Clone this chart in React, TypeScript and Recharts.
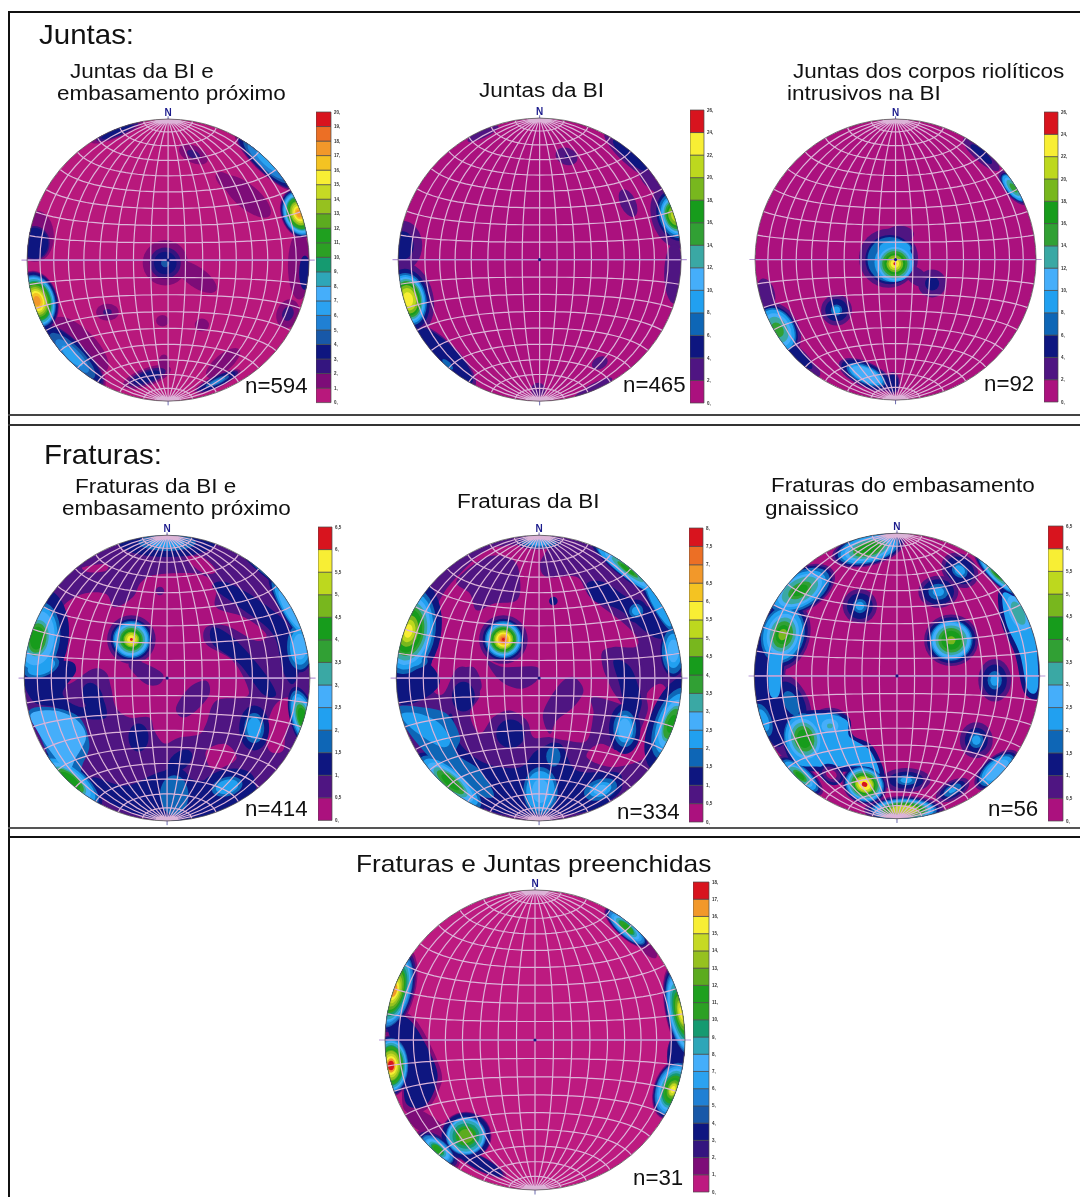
import { Bar, BarChart, Line, LineChart, ReferenceDot, Scatter, ScatterChart, XAxis, YAxis } from 'recharts'

// contour colours, lowest class first, one list per colour bar length
const COLORS_13 = ['#ab117e', '#4f1582', '#0e1680', '#0e66b6', '#21a0f0', '#45aefa', '#3aa8a4', '#31a034', '#179c1c', '#78b71e', '#bdd81e', '#f8ee34', '#d8141e']
const COLORS_16 = ['#ab117e', '#4f1582', '#0e1680', '#0e66b6', '#21a0f0', '#45aefa', '#3aa8a4', '#31a034', '#179c1c', '#78b71e', '#bdd81e', '#f8ee34', '#f4c322', '#f2982a', '#ec6f25', '#d8141e']
const COLORS_18 = ['#bd1a80', '#7d0c78', '#34157f', '#0e1680', '#1858a8', '#2080d4', '#2ba2f0', '#45aefa', '#2ea6b8', '#159a70', '#2ca024', '#1fa01f', '#5cab1f', '#96c11f', '#c6d924', '#f8ee34', '#f2982a', '#d8141e']
const COLORS_20 = ['#b8187c', '#7d0c78', '#34157f', '#0e1680', '#1858a8', '#2080d4', '#2ba2f0', '#45aefa', '#2ea6b8', '#159a70', '#2ca024', '#1fa01f', '#5cab1f', '#96c11f', '#c6d924', '#f8ee34', '#f4c322', '#f2982a', '#ec6f25', '#d8141e']

const TICKS_20 = [0, 1, 2, 3, 4, 5, 6, 7, 8, 9, 10, 11, 12, 13, 14, 15, 16, 17, 18, 19, 20]
const TICKS_26 = [0, 2, 4, 6, 8, 10, 12, 14, 16, 18, 20, 22, 24, 26]
const TICKS_65 = [0, 0.5, 1, 1.5, 2, 2.5, 3, 3.5, 4, 4.5, 5, 5.5, 6, 6.5]
const TICKS_8 = [0, 0.5, 1, 1.5, 2, 2.5, 3, 3.5, 4, 4.5, 5, 5.5, 6, 6.5, 7, 7.5, 8]
const TICKS_18 = [0, 1, 2, 3, 4, 5, 6, 7, 8, 9, 10, 11, 12, 13, 14, 15, 16, 17, 18]

// [x, y, rotation, ry/rx, radii for class 1, 2, 3...]; disc radius is 100
type Peak = [number, number, number, number, number[]]
// [class, then crop-pixel x, y pairs of a closed outline]
type Patch = number[]
// [x, y, rx, ry, rotation, class], painted last
type Late = [number, number, number, number, number, number]

const peaks1: Peak[] = [
  [-93, -29, -15, 1.45, [15, 14.5, 14, 13, 12.5, 12, 11.5, 11, 10, 9.5, 9, 8, 7, 6, 5, 4, 2.5]],
  [-68, -68, 45, 0.33, [32, 30, 28, 22, 16, 10]],
  [-62, -60, 45, 0.4, [26]],
  [-95, 12, 0, 1.1, [12, 11, 10]],
  [-93, 17, 0, 1.5, [12]],
  [-2, -2, 0, 1, [16, 11, 8, 3]],
  [20, -12, 35, 0.42, [17]],
  [93, 33, -20, 1.4, [13, 12.5, 12, 11.5, 11, 10.5, 10, 9, 8.5, 8, 7, 6.5, 6, 5, 4, 3, 2]],
  [70, 70, 43, 0.28, [30, 28, 26, 22, 18, 10]],
  [56, 45, 40, 0.4, [21]],
  [42, 55, 40, 0.5, [10]],
  [18, 75, 25, 0.55, [11, 5]],
  [-36, 91, -22, 0.2, [20, 16, 12]],
  [85, -38, 20, 1.3, [8, 4]],
  [93, -4, 0, 3, [8]],
  [97, -9, 0, 3, [4, 4, 4]],
  [-43, -37, 0, 0.75, [8, 3]],
  [-4, -43, 0, 0.9, [4.5]],
  [24, -46, 0, 0.9, [5]],
  [-15, -83, -20, 0.35, [18, 14, 10]],
  [-3, -73, 0, 1.5, [4]],
  [39, -73, -40, 0.4, [15]],
  [35, -86, -25, 0.25, [18, 16, 14, 9, 6]],
]

const peaks2: Peak[] = [
  [-93, -28, -12, 1.45, [18, 15, 13, 12, 11, 10, 9, 8, 7, 5.5, 3.5]],
  [-97, 10, 0, 1.25, [14, 8]],
  [-67, -68, 45, 0.3, [30, 27]],
  [-65, -74, 45, 0.4, [0, 0, 5]],
  [-40, 89, -25, 0.25, [12]],
  [64, 74, 42, 0.28, [24, 16]],
  [78, 55, 45, 0.4, [10]],
  [19, 73, 20, 0.75, [8, 1]],
  [62.5, 40, -25, 1.9, [5.5]],
  [96, 31, -18, 1.4, [17, 13, 11.5, 10, 9, 8, 7, 6, 5, 3]],
  [95, -10, 0, 3, [7]],
  [42.5, -73, -30, 0.7, [6]],
  [38, -91, -28, 0.22, [15]],
  [-1, -92, 0, 1, [5]],
]

const peaks3: Peak[] = [
  [-5, 1, 0, 1, [21]],
  [3, 18, 0, 0.6, [10]],
  [-4, 0, 0, 1, [0, 17.5, 16]],
  [-1, -2, 0, 1, [0, 0, 0, 14]],
  [-0.5, -3, 0, 1, [0, 0, 0, 0, 12, 10.5, 9, 7.5, 6, 4.5, 3, 1]],
  [-0.5, 8, 0, 0.5, [0, 13, 12, 11]],
  [26, -17, 0, 1, [10, 5]],
  [15, -12, 35, 0.65, [9]],
  [-42, -36, 0, 1, [11, 8, 4, 2.5]],
  [-84, -50, -30, 1.4, [15, 13, 12, 11, 9, 7, 4]],
  [-92, -24, -15, 1.8, [6]],
  [-68, -69, 45, 0.3, [15, 12]],
  [-21, -82, 25, 0.42, [21, 19, 15, 13, 11]],
  [-2, -88, 0, 1.6, [5, 4]],
  [-59, -78, 45, 0.5, [7]],
  [61, 75, 42, 0.3, [17, 10]],
  [84, 51, 50, 0.42, [15, 13, 12, 11, 9, 7, 4]],
]

const peaks4: Peak[] = [
  [-25, 27, 0, 1, [17, 14.5, 13, 12, 11, 9.5, 8, 7, 5.5, 4.5, 3, 1]],
  [0, 95, 0, 0.3, [0, 34, 20, 12]],
  [-91, 28, 8, 1.6, [0, 22, 16, 14, 12, 8, 6.5, 5]],
  [-88, 8, -20, 0.55, [0, 15, 13, 10]],
  [-68, -72, 40, 0.4, [0, 28, 25, 22, 18, 14, 12, 9]],
  [70, 78, 40, 0.2, [0, 32, 28, 24, 18, 12, 8, 4]],
  [86, 48, 60, 0.22, [0, 28, 24, 20, 15]],
  [93, 22, 0, 1.8, [0, 10, 9, 7, 5]],
  [95, -28, -15, 2.5, [0, 9, 8, 7, 6, 5, 4, 3]],
  [61, -35, 0, 1.5, [0, 10.5, 7, 5]],
  [-20, -41.6, 0, 1.4, [0, 7]],
  [-52, -13.5, -20, 1.5, [0, 7]],
  [9, -58, -40, 0.6, [0, 10]],
  [-5, 61, 0, 1, [3]],
  [5, -82, 0, 1.4, [0, 14, 10]],
  [42, -76, -15, 0.6, [0, 20, 11, 8]],
]

const patches4: Patch[] = [
  [0, 425, 455, 470, 432, 600, 430, 650, 470, 650, 530, 735, 560, 800, 610, 770, 630, 680, 585, 620, 590, 620, 640, 700, 690, 745, 770, 735, 800, 650, 810, 620, 880, 600, 910, 540, 920, 495, 938, 465, 900, 450, 860, 390, 860, 350, 830, 335, 770, 320, 725, 280, 715, 205, 760, 195, 700, 190, 600, 190, 530, 250, 490, 320, 490, 345, 530, 400, 500],
  [0, 250, 410, 320, 400, 320, 420, 270, 425],
  [0, 560, 380, 610, 380, 650, 420, 620, 430, 585, 410],
  [0, 825, 825, 870, 800, 885, 840, 860, 900, 850, 960, 810, 960, 800, 900],
  [0, 620, 960, 680, 940, 710, 985, 640, 1015],
  [1, 400, 690, 440, 700, 490, 730, 480, 760, 440, 760, 390, 710],
  [1, 530, 830, 570, 770, 620, 750, 630, 790, 590, 840, 550, 860],
  [1, 260, 730, 310, 720, 330, 780, 330, 840, 290, 860, 270, 810],
  [2, 75, 720, 200, 690, 230, 720, 190, 790, 250, 830, 300, 790, 320, 860, 240, 860, 170, 830, 100, 810],
  [2, 280, 1040, 350, 1060, 400, 1060, 500, 1020, 600, 1050, 700, 1030, 770, 1070, 700, 1130, 600, 1160, 500, 1170, 380, 1140, 300, 1090],
  [2, 640, 470, 680, 455, 780, 510, 870, 590, 900, 700, 880, 760, 850, 720, 820, 610, 720, 530],
  [2, 640, 590, 700, 620, 790, 720, 830, 790, 790, 790, 720, 700, 640, 640],
  [3, 90, 840, 160, 830, 240, 860, 270, 940, 250, 1000, 230, 1040, 160, 990, 120, 910],
  [5, 95, 850, 170, 840, 235, 870, 260, 920, 230, 980, 205, 1020, 160, 970, 120, 910],
]

const peaks5: Peak[] = [
  [-25, 27, 0, 1, [17, 14.5, 13, 12, 11, 10, 9, 8, 7, 6, 5, 4, 3, 2, 1]],
  [-62, -73, 40, 0.35, [0, 30, 27, 24, 20, 15, 12, 8]],
  [1, -79, 0, 1.4, [0, 16, 12, 10, 6]],
  [43, -78, -20, 0.6, [0, 16, 12, 8, 5]],
  [10, -55, 0, 1.4, [0, 7, 5]],
  [60, -35.5, 0, 1.6, [0, 11, 8, 6, 4.5]],
  [93, -32, 20, 2.2, [0, 16, 12, 10, 8, 6, 5, 3]],
  [62, 76, 38, 0.2, [0, 32, 28, 26, 20, 14, 9, 6]],
  [84, 50, 60, 0.2, [0, 26, 20, 16]],
  [94, 19, 0, 2, [0, 9, 8, 6, 4]],
  [68, 47, 0, 1, [0, 8, 5, 3]],
  [-91.6, 33, 10, 1.6, [0, 23, 19, 17, 15, 13, 11, 9.5, 7, 5, 3]],
  [-90, 12, 0, 0.5, [0, 15, 12, 8]],
  [0, 95, 0, 0.3, [0, 16, 12, 8]],
  [10, 54, 0, 1, [0, 3]],
  [-20, -39, 0, 1, [0, 10]],
  [-53, -13, 0, 1.3, [0, 8]],
]

const patches5: Patch[] = [
  [0, 465, 195, 560, 195, 540, 250, 560, 290, 650, 290, 690, 350, 780, 420, 830, 470, 825, 500, 760, 500, 725, 520, 740, 590, 800, 640, 820, 680, 700, 650, 700, 700, 680, 780, 620, 780, 570, 770, 520, 770, 500, 720, 450, 690, 400, 710, 360, 760, 330, 700, 360, 640, 330, 570, 290, 565, 250, 640, 215, 620, 215, 520, 215, 420, 250, 340, 300, 280, 380, 210],
  [0, 860, 640, 900, 610, 920, 650, 880, 780, 860, 830, 760, 860, 680, 830, 720, 790, 800, 810, 860, 700],
  [1, 290, 300, 380, 230, 460, 240, 480, 300, 470, 360, 400, 370, 350, 390, 330, 340],
  [1, 555, 680, 600, 610, 640, 590, 670, 630, 640, 680, 590, 720, 570, 760, 550, 720],
  [1, 380, 540, 430, 560, 530, 560, 530, 600, 480, 625, 420, 600],
  [1, 290, 580, 340, 560, 365, 620, 330, 650, 300, 640],
  [1, 730, 510, 830, 520, 860, 640, 820, 700, 770, 650, 740, 590],
  [2, 680, 310, 730, 305, 800, 350, 900, 400, 930, 460, 880, 470, 780, 390, 700, 360],
  [2, 760, 540, 810, 560, 840, 640, 840, 690, 790, 790, 760, 800, 790, 700, 780, 620],
  [2, 110, 570, 190, 540, 240, 600, 200, 650, 120, 670],
  [2, 270, 700, 300, 790, 380, 850, 480, 860, 530, 810, 600, 790, 650, 870, 780, 880, 750, 960, 640, 1000, 420, 1000, 300, 920, 220, 840],
  [3, 115, 680, 180, 680, 260, 700, 300, 770, 290, 820, 360, 870, 400, 950, 300, 920, 190, 810, 130, 730],
  [4, 125, 700, 180, 700, 240, 730, 270, 780, 250, 800, 190, 770, 140, 730],
]

const peaks6: Peak[] = [
  [-20, 89, -14, 0.45, [26, 24, 22, 20, 17, 14, 11, 8]],
  [-68, 60, -30, 0.55, [27, 25, 23, 20, 17, 14, 9, 6]],
  [-80, 29, 15, 1.35, [19, 17, 15, 13.5, 11, 9, 7, 5, 3]],
  [-74, -19, -25, 1.8, [12, 9, 5]],
  [-26, 49, 0, 1, [12, 9, 5, 3]],
  [29, 59, 0, 0.8, [14, 11, 7, 4]],
  [44, 74, 40, 0.8, [14, 11, 6, 4]],
  [38, 25, 0, 0.95, [19, 17, 15, 14, 13, 11, 9, 7, 3]],
  [68.5, -3, 0, 1.3, [11.5, 8.5, 5, 3]],
  [70, 71, 45, 0.25, [22, 20, 18, 16, 14, 10, 6, 3]],
  [85, 44, -25, 2.2, [0, 0, 0, 0, 6, 4]],
  [55.6, -45, 0, 1.1, [11.5, 8, 5, 3]],
  [70, -66, -40, 0.5, [19, 17, 15, 13, 10]],
  [39, -80, -30, 0.5, [13, 10, 7, 3]],
  [6.5, -73, 0, 0.5, [17, 12, 7, 4]],
  [5, -94, 0, 0.35, [28, 25, 23, 21, 19, 17, 15, 13, 11, 9]],
  [-22.7, -76, 25, 0.85, [16, 15, 14, 13, 12, 11, 9.5, 8, 7, 6, 4.5, 2]],
  [-65, -44, -15, 1.3, [17, 15, 14, 13, 11, 9, 7, 5]],
  [-47, -35, 0, 0.85, [15, 13, 11, 9, 6, 2]],
  [-68, -70, 40, 0.4, [20, 18, 16, 14, 11, 9, 6, 4]],
  [-94, -31, -20, 2, [10, 8, 6, 4]],
]

const patches6: Patch[] = [
  [1, 100, 480, 200, 500, 195, 640, 270, 680, 220, 800, 190, 830, 120, 730, 100, 620],
  [2, 105, 500, 190, 520, 190, 640, 250, 660, 240, 720, 180, 800, 130, 740, 105, 620],
  [2, 840, 330, 910, 360, 955, 470, 965, 640, 915, 640, 885, 520, 845, 430],
  [2, 205, 710, 300, 690, 385, 710, 400, 765, 460, 800, 495, 890, 440, 875, 300, 875, 225, 860, 190, 780],
  [4, 150, 520, 185, 520, 180, 640, 150, 640],
  [4, 850, 340, 900, 370, 945, 470, 955, 620, 925, 630, 900, 520, 860, 430],
  [4, 215, 720, 300, 700, 380, 720, 390, 770, 450, 810, 480, 880, 440, 860, 300, 860, 230, 850, 200, 780],
]

const late6: Late[] = [
  [-46, -69, 9, 7, 30, 2],
  [-46, -69, 7, 5, 30, 1],
  [-46, -69, 4, 3, 30, 0],
]

const peaks7: Peak[] = [
  [-96, -17, 0, 1.6, [13, 12.5, 12, 11.5, 11, 10.5, 10, 9.5, 8.5, 8, 7, 6.5, 6, 5, 4, 3, 2]],
  [-94, 33, 15, 2.2, [14, 13, 12, 11.5, 11, 10, 9.5, 9, 8, 7, 6.5, 6, 5, 4, 3, 2]],
  [-46, -64, 0, 0.95, [17, 16.5, 16, 13.5, 13, 12.5, 12, 11, 9, 7, 6, 5]],
  [-65, -73, 40, 0.5, [18, 16, 14, 13, 12, 10, 9, 7, 5.5, 4.5, 3]],
  [-37, -82, 28, 0.25, [20, 18, 17]],
  [98, 17.7, -12, 3, [11, 10.5, 10, 9.5, 9, 8.5, 8, 7, 6, 5, 4.5, 4, 3, 2.5, 1.5]],
  [92, -33, 18, 1.6, [13, 12.5, 12, 11.5, 11, 10, 9, 8, 7, 6, 5, 4, 3, 2.5, 1.5]],
  [61, 75, 42, 0.35, [19, 18, 17, 16, 15, 13, 11, 9, 7, 6, 3]],
  [76, 60, 45, 0.5, [7]],
  [96, -11, 0, 2, [8, 8, 7.5]],
]

const patches7: Patch[] = [
  [1, 75, 520, 140, 520, 185, 570, 240, 690, 235, 750, 195, 810, 130, 810, 120, 690, 85, 600],
  [1, 135, 825, 175, 810, 250, 860, 230, 890, 170, 870],
  [3, 75, 530, 130, 530, 170, 570, 225, 680, 225, 740, 190, 800, 135, 790, 125, 690, 90, 600],
]

const noPatches: Patch[] = []
const noLate: Late[] = []

const netPanels = [
  { id: 'p1', cx: 167.7, cy: 260.5, r: 141, base: 0, colors: COLORS_20, peaks: peaks1, patches: noPatches, late: noLate, crop: [503, 782, 423] },
  { id: 'p2', cx: 539.5, cy: 260, r: 141.5, base: 0, colors: COLORS_13, peaks: peaks2, patches: noPatches, late: noLate, crop: [540, 600, 424] },
  { id: 'p3', cx: 895.5, cy: 260, r: 140.5, base: 0, colors: COLORS_13, peaks: peaks3, patches: noPatches, late: noLate, crop: [527, 600, 421] },
  { id: 'p4', cx: 167.5, cy: 677.7, r: 142.8, base: 1, colors: COLORS_13, peaks: peaks4, patches: patches4, late: noLate, crop: [503, 742, 428] },
  { id: 'p5', cx: 538.7, cy: 677.7, r: 142.8, base: 1, colors: COLORS_16, peaks: peaks5, patches: patches5, late: noLate, crop: [537, 593, 428] },
  { id: 'p6', cx: 897, cy: 676, r: 142.7, base: 0, colors: COLORS_13, peaks: peaks6, patches: patches6, late: late6, crop: [532, 588, 428] },
  { id: 'p7', cx: 534.7, cy: 1040, r: 150, base: 0, colors: COLORS_18, peaks: peaks7, patches: patches7, late: noLate, crop: [524, 600, 452] },
]

const colorBars = [
  { x: 316, y: 111.7, w: 15, h: 290.6, ticks: TICKS_20, colors: COLORS_20 },
  { x: 690, y: 110, w: 14, h: 293, ticks: TICKS_26, colors: COLORS_13 },
  { x: 1044, y: 111.7, w: 14, h: 290, ticks: TICKS_26, colors: COLORS_13 },
  { x: 318.3, y: 527.3, w: 14, h: 293.4, ticks: TICKS_65, colors: COLORS_13 },
  { x: 689.3, y: 527.7, w: 14, h: 294, ticks: TICKS_8, colors: COLORS_16 },
  { x: 1048, y: 525.7, w: 15, h: 295, ticks: TICKS_65, colors: COLORS_13 },
  { x: 693, y: 881.7, w: 16, h: 310, ticks: TICKS_18, colors: COLORS_18 },
]

// the source lettering is a little wider than Liberation Sans, hence the stretch
const headings = [
  { text: 'Juntas:', x: 39, base: 45, size: 28, stretch: 1.053 },
  { text: 'Juntas da BI e', x: 70, base: 77.6, size: 20, stretch: 1.125 },
  { text: 'embasamento próximo', x: 57, base: 100.1, size: 20, stretch: 1.125 },
  { text: 'Juntas da BI', x: 479, base: 97, size: 20, stretch: 1.125 },
  { text: 'Juntas dos corpos riolíticos', x: 793, base: 77.6, size: 20, stretch: 1.125 },
  { text: 'intrusivos na BI', x: 787, base: 100.1, size: 20, stretch: 1.125 },
  { text: 'Fraturas:', x: 44, base: 465, size: 28, stretch: 1.053 },
  { text: 'Fraturas da BI e', x: 75, base: 492.6, size: 20, stretch: 1.125 },
  { text: 'embasamento próximo', x: 62, base: 515.1, size: 20, stretch: 1.125 },
  { text: 'Fraturas da BI', x: 457, base: 508, size: 20, stretch: 1.125 },
  { text: 'Fraturas do embasamento', x: 771, base: 492, size: 20, stretch: 1.125 },
  { text: 'gnaissico', x: 765, base: 515, size: 20, stretch: 1.125 },
  { text: 'Fraturas e Juntas preenchidas', x: 356, base: 872, size: 24, stretch: 1.096 },
  { text: 'n=594', x: 245, base: 394, size: 22.3, stretch: 1 },
  { text: 'n=465', x: 623, base: 393, size: 22.3, stretch: 1 },
  { text: 'n=92', x: 984, base: 392, size: 22.3, stretch: 1 },
  { text: 'n=414', x: 245, base: 817, size: 22.3, stretch: 1 },
  { text: 'n=334', x: 617, base: 820, size: 22.3, stretch: 1 },
  { text: 'n=56', x: 988, base: 817, size: 22.3, stretch: 1 },
  { text: 'n=31', x: 633, base: 1186, size: 22.3, stretch: 1 },
]

const rules = [
  { x: 8, y: 11, w: 1072, h: 2, color: '#111' },
  { x: 8, y: 11, w: 2, h: 1186, color: '#111' },
  { x: 8, y: 414, w: 1072, h: 2, color: '#444' },
  { x: 8, y: 424, w: 1072, h: 2, color: '#333' },
  { x: 8, y: 827, w: 1072, h: 2, color: '#555' },
  { x: 8, y: 836, w: 1072, h: 2, color: '#111' },
]

type Mark = { x: number; y: number; level: number; rx?: number; ry?: number; rot?: number; pts?: number[] }

const DOMAIN: [number, number] = [-110, 110]

// equal-area (Schmidt) net, one line with gaps between the 10 degree curves
function netPoint(lon: number, lat: number) {
  const a = (lon * Math.PI) / 180
  const b = (lat * Math.PI) / 180
  const k = 100 / Math.sqrt(1 + Math.cos(b) * Math.cos(a))
  return { x: k * Math.cos(b) * Math.sin(a), y: k * Math.sin(b) }
}

const gridLines: { x: number | null; y: number | null }[] = []
for (let lon = -80; lon <= 80; lon += 10) {
  for (let lat = -90; lat <= 90; lat += 5) gridLines.push(netPoint(lon, lat))
  gridLines.push({ x: null, y: null })
}
for (let lat = -80; lat <= 80; lat += 10) {
  for (let lon = -90; lon <= 90; lon += 5) gridLines.push(netPoint(lon, lat))
  gridLines.push({ x: null, y: null })
}
const rimLine: { x: number; y: number }[] = []
for (let lon = -90; lon <= 90; lon += 5) rimLine.push(netPoint(90, lon))
for (let lat = 85; lat >= -90; lat -= 5) rimLine.push({ x: -netPoint(90, lat).x, y: netPoint(90, lat).y })

const axisEW = [{ x: -104, y: 0 }, { x: 104, y: 0 }]
const axisSouth = [{ x: 0, y: -100 }, { x: 0, y: -103 }]
const axisNorth = [{ x: 0, y: 100 }, { x: 0, y: 102 }]

function buildMarks(panel: (typeof netPanels)[number]) {
  const marks: Mark[] = []
  panel.peaks.forEach(([x, y, rot, aspect, radii]) => {
    radii.forEach((r, i) => {
      if (r > 0) marks.push({ x, y, rot, rx: r, ry: r * aspect, level: i + 1 })
    })
  })
  const [cropX, cropY, cropR] = panel.crop
  panel.patches.forEach((patch) => {
    const pts: number[] = []
    for (let i = 1; i < patch.length; i += 2) {
      pts.push(((patch[i] - cropX) / cropR) * 100, ((cropY - patch[i + 1]) / cropR) * 100)
    }
    marks.push({ x: pts[0], y: pts[1], level: patch[0], pts })
  })
  return marks
}

function smoothPath(p: number[][]) {
  const n = p.length
  let d = `M${p[0][0]},${p[0][1]}`
  for (let i = 0; i < n; i++) {
    const a = p[(i - 1 + n) % n]
    const b = p[i]
    const c = p[(i + 1) % n]
    const e = p[(i + 2) % n]
    d += `C${b[0] + (c[0] - a[0]) / 6},${b[1] + (c[1] - a[1]) / 6} ${c[0] - (e[0] - b[0]) / 6},${c[1] - (e[1] - b[1]) / 6} ${c[0]},${c[1]}`
  }
  return d + 'Z'
}

function contourShape(k: number, clipId: string, colors: string[]) {
  return (props: any) => {
    const { cx, cy, payload } = props
    const m = payload as Mark
    const fill = colors[m.level]
    if (m.pts) {
      const p: number[][] = []
      for (let i = 0; i < m.pts.length; i += 2) {
        p.push([cx + (m.pts[i] - m.x) * k, cy - (m.pts[i + 1] - m.y) * k])
      }
      return <path d={smoothPath(p)} fill={fill} clipPath={`url(#${clipId})`} />
    }
    return (
      <g clipPath={`url(#${clipId})`}>
        <ellipse
          cx={cx}
          cy={cy}
          rx={(m.rx ?? 0) * k}
          ry={(m.ry ?? 0) * k}
          fill={fill}
          transform={`rotate(${m.rot ?? 0} ${cx} ${cy})`}
        />
      </g>
    )
  }
}

function Stereonet({ panel }: { panel: (typeof netPanels)[number] }) {
  const k = panel.r / 100
  const size = 2.2 * panel.r
  const marks = buildMarks(panel)
  const shape = contourShape(k, panel.id, panel.colors)
  const levels = panel.colors.map((_, i) => i)
  const lateMarks: Mark[] = panel.late.map(([x, y, rx, ry, rot, level]) => ({ x, y, rx, ry, rot, level }))
  const boxStyle = { position: 'absolute' as const, left: panel.cx - size / 2, top: panel.cy - size / 2 }
  return (
    <>
      <div style={boxStyle}>
        <ScatterChart width={size} height={size} margin={{ top: 0, right: 0, bottom: 0, left: 0 }}>
          <defs>
            <clipPath id={panel.id}>
              <circle cx={size / 2} cy={size / 2} r={panel.r} />
            </clipPath>
          </defs>
          <XAxis hide type="number" dataKey="x" domain={DOMAIN} allowDataOverflow />
          <YAxis hide type="number" dataKey="y" domain={DOMAIN} allowDataOverflow />
          <Scatter
            data={[{ x: 0, y: 0, rx: 100, ry: 100, level: panel.base }]}
            shape={shape}
            isAnimationActive={false}
          />
          {levels.map((level) => (
            <Scatter
              key={level}
              data={marks.filter((m) => m.level === level)}
              shape={shape}
              isAnimationActive={false}
            />
          ))}
          {lateMarks.map((m, i) => (
            <Scatter key={`late${i}`} data={[m]} shape={shape} isAnimationActive={false} />
          ))}
        </ScatterChart>
      </div>
      <div style={boxStyle}>
        <LineChart width={size} height={size} data={gridLines} margin={{ top: 0, right: 0, bottom: 0, left: 0 }}>
          <XAxis hide type="number" dataKey="x" domain={DOMAIN} allowDataOverflow />
          <YAxis hide type="number" dataKey="y" domain={DOMAIN} allowDataOverflow />
          <Line dataKey="y" stroke="#dcb4d8" strokeWidth={1.2} dot={false} connectNulls={false} isAnimationActive={false} />
          <Line data={axisEW} dataKey="y" stroke="#b89ad8" strokeWidth={1.1} dot={false} isAnimationActive={false} />
          <Line data={axisSouth} dataKey="y" stroke="#6a6ab0" strokeWidth={1} dot={false} isAnimationActive={false} />
          <Line data={axisNorth} dataKey="y" stroke="#6a6ab0" strokeWidth={1} dot={false} isAnimationActive={false} />
          <Line data={rimLine} dataKey="y" stroke="#555" strokeWidth={0.8} dot={false} isAnimationActive={false} />
          <ReferenceDot x={0} y={0} r={1.6} fill="#141480" stroke="none" />
          <ReferenceDot
            x={0}
            y={104.5}
            r={0}
            stroke="none"
            label={{ value: 'N', position: 'center', fill: '#1a1a8c', fontSize: 10, fontWeight: 700, fontFamily: 'Liberation Sans' }}
          />
        </LineChart>
      </div>
    </>
  )
}

function ColorBar({ bar }: { bar: (typeof colorBars)[number] }) {
  const { ticks, colors } = bar
  const row: Record<string, number | string> = { name: 'scale' }
  colors.forEach((_, i) => {
    row[`c${i}`] = ticks[i + 1] - ticks[i]
  })
  return (
    <div style={{ position: 'absolute', left: bar.x, top: bar.y - 5 }}>
      <BarChart
        width={bar.w + 18}
        height={bar.h + 10}
        data={[row]}
        barCategoryGap={0}
        margin={{ top: 5, right: 0, bottom: 5, left: 0 }}
      >
        <XAxis hide dataKey="name" />
        <YAxis
          orientation="right"
          type="number"
          width={18}
          domain={[0, ticks[ticks.length - 1]]}
          ticks={ticks}
          interval={0}
          axisLine={false}
          tickLine={false}
          tickMargin={1}
          tickSize={2}
          tick={{ fontSize: 4.5, fontWeight: 700, fill: '#333', fontFamily: 'Liberation Sans' }}
          tickFormatter={(v: number) => String(v).replace('.', ',') + (Number.isInteger(v) ? ',' : '')}
        />
        {colors.map((color, i) => (
          <Bar key={i} dataKey={`c${i}`} stackId="scale" fill={color} stroke="#4a4a4a" strokeWidth={0.7} isAnimationActive={false} />
        ))}
      </BarChart>
    </div>
  )
}

export default function App() {
  return (
    <div style={{ position: 'absolute', left: 0, top: 0, width: 1080, height: 1197, background: '#fff', overflow: 'hidden', filter: 'blur(0.4px)' }}>
      {rules.map((l, i) => (
        <div key={i} style={{ position: 'absolute', left: l.x, top: l.y, width: l.w, height: l.h, background: l.color }} />
      ))}
      {netPanels.map((panel) => (
        <Stereonet key={panel.id} panel={panel} />
      ))}
      {colorBars.map((bar, i) => (
        <ColorBar key={i} bar={bar} />
      ))}
      {headings.map((h) => (
        <div
          key={h.text + h.x}
          style={{
            position: 'absolute',
            left: h.x,
            top: h.base - 0.8465 * h.size,
            fontFamily: 'Liberation Sans, Arial, sans-serif',
            fontSize: h.size,
            lineHeight: 1,
            color: '#111',
            whiteSpace: 'nowrap',
            transform: `scaleX(${h.stretch})`,
            transformOrigin: 'left top',
          }}
        >
          {h.text}
        </div>
      ))}
    </div>
  )
}
